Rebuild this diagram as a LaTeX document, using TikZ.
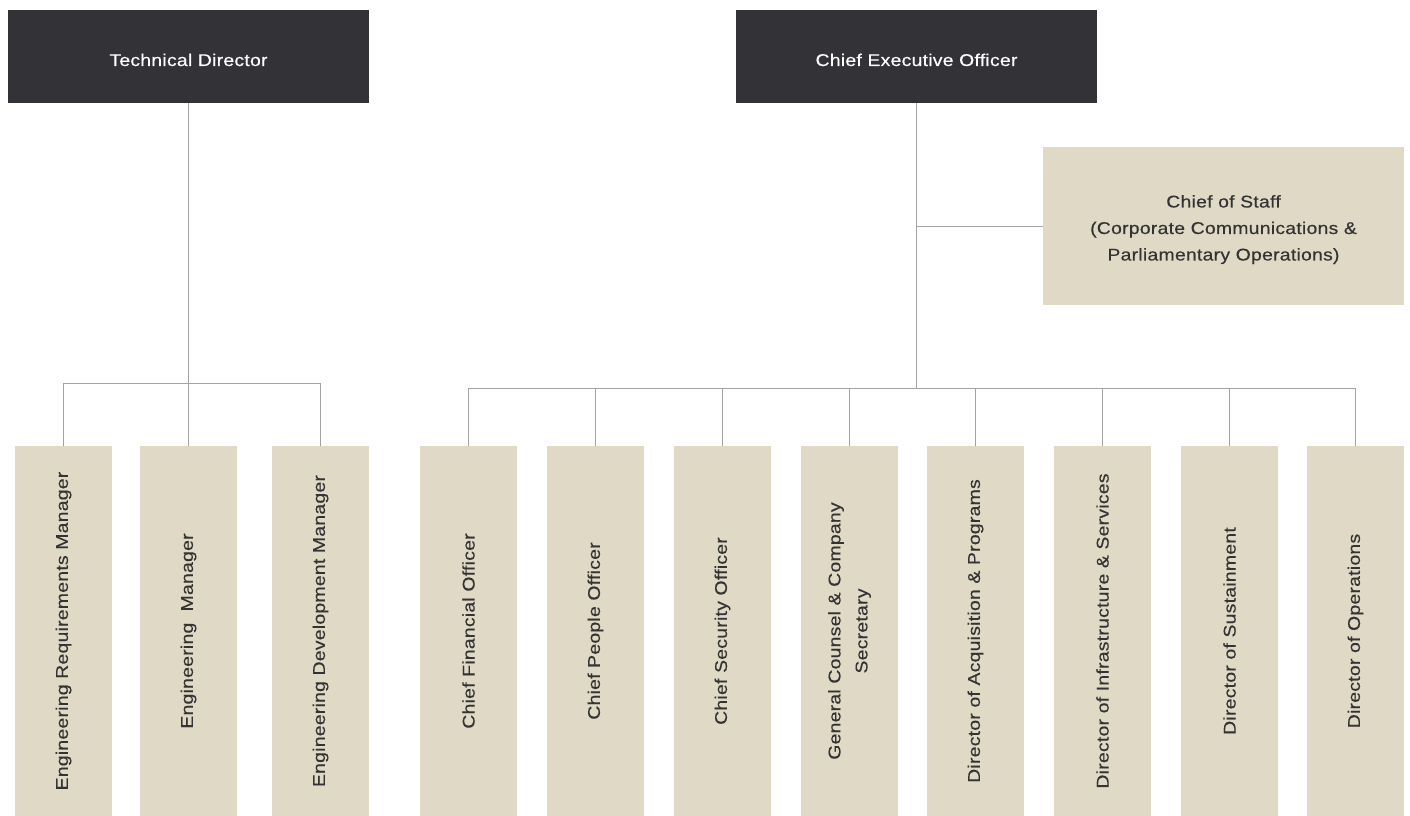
\documentclass[tikz,border=0pt]{standalone}
\usepackage{fontspec}
\setmainfont{Liberation Sans}[FakeStretch=1.14,LetterSpace=1.5,FakeBold=0.3]
\definecolor{dark}{HTML}{333236}
\definecolor{beige}{HTML}{DFD9C5}
\definecolor{conn}{HTML}{A3A3A3}
\definecolor{txt}{HTML}{333333}
\begin{document}
\begin{tikzpicture}[x=1pt,y=-1pt,
  topbox/.style={fill=dark,text=white,minimum width=361pt,minimum height=93pt,inner sep=0pt,text height=19pt,text depth=0pt,font=\fontsize{17}{20}\selectfont},
  staffbox/.style={fill=beige,text=txt,minimum width=361pt,minimum height=158pt,inner sep=0pt,align=center,font=\fontsize{17}{26.5}\selectfont},
  leaf/.style={fill=beige,text=txt,rotate=90,minimum width=370pt,minimum height=97pt,inner sep=0pt,align=center,font=\fontsize{17}{27}\selectfont},
  link/.style={draw=conn,line width=1pt}]
\useasboundingbox (0,0) rectangle (1410,816);
\fill[white] (0,0) rectangle (1410,816);
% top boxes
\node[topbox] (td) at (188.5,56.5) {Technical Director};
\node[topbox] (ceo) at (916.5,56.5) {Chief Executive Officer};
\node[staffbox] (cos) at (1223.5,226) {\rule{0pt}{19.5pt}Chief of Staff\\(Corporate Communications \&\\Parliamentary Operations)};
% engineering
\node[leaf] (e1) at (63.5,631) {Engineering Requirements Manager};
\node[leaf] (e2) at (188.5,631) {Engineering\ \ Manager};
\node[leaf] (e3) at (320.5,631) {Engineering Development Manager};
% executives
\node[leaf] (c1) at (468.5,631) {Chief Financial Officer};
\node[leaf] (c2) at (595.5,631) {Chief People Officer};
\node[leaf] (c3) at (722.5,631) {Chief Security Officer};
\node[leaf] (c4) at (849.5,631) {General Counsel \& Company\\Secretary};
\node[leaf] (c5) at (975.5,631) {Director of Acquisition \& Programs};
\node[leaf] (c6) at (1102.5,631) {Director of Infrastructure \& Services};
\node[leaf] (c7) at (1229.5,631) {Director of Sustainment};
\node[leaf] (c8) at (1355.5,631) {Director of Operations};
% bars
\coordinate (tdbar) at (188.5,383);
\coordinate (ceobar) at (916.5,388);
% technical connectors
\draw[link] (td.south) -- (tdbar);
\draw[link] (e1.east) -- (e1.east |- tdbar) -- (e3.east |- tdbar) -- (e3.east);
\draw[link] (e2.east) -- (e2.east |- tdbar);
% ceo connectors
\draw[link] (ceo.south) -- (ceobar);
\draw[link] (cos.west) -- (cos.west -| ceo.south);
\draw[link] (c1.east) -- (c1.east |- ceobar) -- (c8.east |- ceobar) -- (c8.east);
\foreach \n in {c2,c3,c4,c5,c6,c7}
  \draw[link] (\n.east) -- (\n.east |- ceobar);
\end{tikzpicture}
\end{document}
